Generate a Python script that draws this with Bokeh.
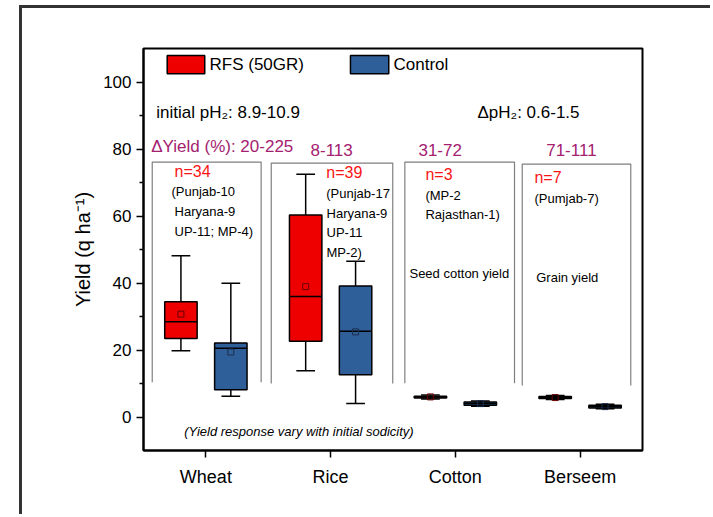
import re
import numpy as np
from bokeh.plotting import figure
from bokeh.models import FixedTicker, Label, Range1d
from bokeh.embed import file_html
from bokeh.resources import INLINE

# ---------------- data ----------------
categories = ["Wheat", "Rice", "Cotton", "Berseem"]

rfs_low    = [19.8, 13.8, 5.4, 5.2]
rfs_q1     = [23.4, 22.6, 5.7, 5.5]
rfs_median = [28.4, 36.0, 6.0, 5.8]
rfs_q3     = [34.4, 60.3, 6.2, 6.1]
rfs_high   = [48.1, 72.5, 6.6, 6.4]
rfs_mean   = [30.7, 38.9, 6.0, 5.8]

ctrl_low    = [6.2, 4.0, 3.2, 2.5]
ctrl_q1     = [8.1, 12.6, 3.5, 2.7]
ctrl_median = [20.5, 25.6, 4.0, 3.1]
ctrl_q3     = [22.1, 39.1, 4.5, 3.5]
ctrl_high   = [39.9, 46.5, 4.8, 3.8]
ctrl_mean   = [19.4, 25.4, 4.0, 3.1]

y_ticks = [0, 20, 40, 60, 80, 100]
y_minor = [10, 30, 50, 70, 90]

FONT = "Liberation Sans"
RED = "#ee0000"
BLUE = "#2f5f98"
PURPLE = "#a3216f"
TXTRED = "#f81414"

pos = np.arange(1, len(categories) + 1)

p = figure(width=691, height=509,
           x_range=Range1d(0.5, 4.5), y_range=Range1d(-10, 110),
           output_backend="svg", toolbar_location=None,
           min_border_left=121, min_border_right=71,
           min_border_top=40, min_border_bottom=67)
p.margin = (5, 0, 0, 19)
p.styles = {"border-left": "3px solid #333333", "border-top": "3px solid #333333"}

p.background_fill_color = "white"
p.border_fill_color = "white"
p.xgrid.visible = False
p.ygrid.visible = False
p.outline_line_color = "black"
p.outline_line_width = 2
p.outline_line_alpha = 1.0

# axes
p.xaxis.ticker = FixedTicker(ticks=list(pos), minor_ticks=[])
p.xaxis.major_label_overrides = {int(k): c for k, c in zip(pos, categories)}
p.yaxis.ticker = FixedTicker(ticks=y_ticks, minor_ticks=y_minor)
for ax in (p.xaxis, p.yaxis):
    ax.axis_line_color = "black"
    ax.axis_line_width = 2
    ax.major_tick_line_color = "black"
    ax.major_tick_line_width = 1.5
    ax.minor_tick_line_color = "black"
    ax.minor_tick_line_width = 1.5
    ax.major_tick_in = 0
    ax.major_tick_out = 7
    ax.minor_tick_in = 0
    ax.minor_tick_out = 4
    ax.major_label_text_font = FONT
    ax.major_label_text_color = "black"
p.xaxis.major_label_text_font_size = "18px"
p.xaxis.major_label_standoff = 9
p.yaxis.major_label_text_font_size = "17px"
p.yaxis.major_label_standoff = 5
p.yaxis.axis_label = "Yield (q ha\u207b\u00b9)"
p.yaxis.axis_label_text_font = FONT
p.yaxis.axis_label_text_font_size = "20px"
p.yaxis.axis_label_text_font_style = "normal"
p.yaxis.axis_label_text_color = "black"
p.yaxis.axis_label_standoff = 6

# gray open brackets around each crop group
br_left = [0.570, 1.524, 2.595, 3.536]
br_right = [1.443, 2.498, 3.474, 4.406]
br_top = [76.1, 75.8, 76.1, 75.5]
br_bottom = [10.4, 10.0, 10.1, 9.4]
p.multi_line(xs=[[l, l, r, r] for l, r in zip(br_left, br_right)],
             ys=[[b, t, t, b] for t, b in zip(br_top, br_bottom)],
             line_color="#7f7f7f", line_width=1.2)

BOX_W = 0.26
CAP_W = 0.15


def draw_boxes(xs, low, q1, med, q3, high, mean, fill, mean_col):
    xs = list(xs)
    p.segment(x0=xs, y0=q3, x1=xs, y1=high, line_color="black", line_width=1.5)
    p.segment(x0=xs, y0=low, x1=xs, y1=q1, line_color="black", line_width=1.5)
    p.segment(x0=[x - CAP_W / 2 for x in xs], y0=high,
              x1=[x + CAP_W / 2 for x in xs], y1=high, line_color="black", line_width=1.5)
    p.segment(x0=[x - CAP_W / 2 for x in xs], y0=low,
              x1=[x + CAP_W / 2 for x in xs], y1=low, line_color="black", line_width=1.5)
    p.vbar(x=xs, width=BOX_W, bottom=q1, top=q3, fill_color=fill,
           line_color="black", line_width=1.5)
    p.segment(x0=[x - BOX_W / 2 for x in xs], y0=med,
              x1=[x + BOX_W / 2 for x in xs], y1=med, line_color="black", line_width=1.5)
    p.scatter(x=xs, y=mean, marker="square", size=6, fill_alpha=0,
              line_color=mean_col, line_width=1)


draw_boxes(pos - 0.2, rfs_low, rfs_q1, rfs_median, rfs_q3, rfs_high, rfs_mean, RED, "#6a0000")
draw_boxes(pos + 0.2, ctrl_low, ctrl_q1, ctrl_median, ctrl_q3, ctrl_high, ctrl_mean, BLUE, "#1b2f4f")

# manual legend
p.quad(left=[0.690, 2.159], right=[0.991, 2.466], top=[107.9, 107.9], bottom=[102.45, 102.45],
       fill_color=[RED, BLUE], line_color="black", line_width=1.5)


def lab(x, y, text, size, color="black", style="normal"):
    p.add_layout(Label(x=x, y=y, text=text, text_font=FONT, text_font_size=size,
                       text_color=color, text_font_style=style,
                       text_align="left", text_baseline="middle"))


lab(1.029, 105.2, "RFS (50GR)", "17px")
lab(2.504, 105.2, "Control", "17px")

lab(0.602, 91.0, "initial pH\u2082: 8.9-10.9", "17px")
lab(3.177, 91.0, "\u0394pH\u2082: 0.6-1.5", "17px")

lab(0.562, 80.75, "\u0394Yield (%): 20-225", "17px", PURPLE)
lab(1.839, 79.85, "8-113", "17px", PURPLE)
lab(2.704, 79.85, "31-72", "17px", PURPLE)
lab(3.728, 79.85, "71-111", "17px", PURPLE)

lab(0.749, 73.3, "n=34", "16px", TXTRED)
lab(0.724, 67.3, "(Punjab-10", "13px")
lab(0.749, 61.3, "Haryana-9", "13px")
lab(0.749, 55.4, "UP-11; MP-4)", "13px")

lab(1.965, 73.0, "n=39", "16px", TXTRED)
lab(1.965, 66.8, "(Punjab-17", "13px")
lab(1.967, 60.8, "Haryana-9", "13px")
lab(1.967, 55.2, "UP-11", "13px")
lab(1.967, 49.2, "MP-2)", "13px")

lab(2.760, 72.4, "n=3", "16px", TXTRED)
lab(2.760, 66.1, "(MP-2", "13px")
lab(2.760, 60.45, "Rajasthan-1)", "13px")

lab(3.634, 71.5, "n=7", "16px", TXTRED)
lab(3.634, 65.2, "(Pumjab-7)", "13px")

lab(2.632, 42.9, "Seed cotton yield", "13px")
lab(3.648, 41.6, "Grain yield", "13px")

lab(0.826, -4.24, "(Yield response vary with initial sodicity)", "13px", style="italic")

html = file_html(p, INLINE, title="Yield response")
html = re.sub(r"<body[^>]*>", '<body style="margin:0;background-color:#dfecde;">', html, count=1)
open("out.html", "w").write(html)
